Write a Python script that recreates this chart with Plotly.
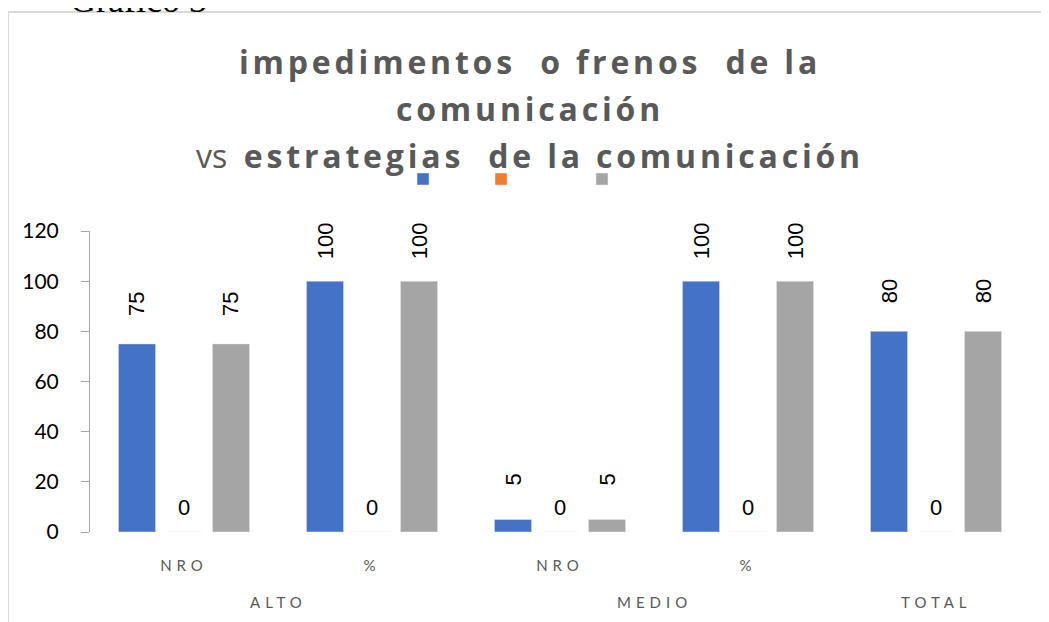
import plotly.graph_objects as go

# data
categories = ["ALTO NRO", "ALTO %", "MEDIO NRO", "MEDIO %", "TOTAL"]
groups = ["ALTO", "ALTO", "MEDIO", "MEDIO", "TOTAL"]
subs = ["NRO", "%", "NRO", "%", ""]
serie_azul = [75, 100, 5, 100, 80]
serie_naranja = [0, 0, 0, 0, 0]
serie_gris = [75, 100, 5, 100, 80]
yticks = [0, 20, 40, 60, 80, 100, 120]

series = [serie_azul, serie_naranja, serie_gris]
colors = ["#4472C4", "#ED7D31", "#A5A5A5"]
legends = ["legend", "legend2", "legend3"]

BARGAP = 0.25
slot = (1 - BARGAP) / len(series)

W, H = 1041, 614          # page has an 8px body margin
L, T = 82, 223             # plot area: page x 90..1030, y 231..532
PW = 940


def spaced(t, px=4):
    return f'<span style="letter-spacing:{px}px">{t}</span>'


fig = go.Figure()
for vals, col, lg in zip(series, colors, legends):
    fig.add_trace(go.Bar(x=categories, y=vals, name="", marker_color=col,
                         legend=lg, showlegend=True, hoverinfo="y"))

ann = []
# data labels
lab_font = dict(family="Liberation Sans", size=22, color="#000000")
for k, vals in enumerate(series):
    off = (k - 1) * slot
    for i, v in enumerate(vals):
        if k == 1:
            ann.append(dict(x=i + off, y=v, text=str(v), showarrow=False,
                            yanchor="middle", yshift=25, font=lab_font))
        else:
            ann.append(dict(x=i + off, y=v, text=str(v), showarrow=False,
                            textangle=-90, yanchor="middle", yshift=40,
                            font=lab_font))

# group labels under the sub labels
seen = []
for g in groups:
    if g not in seen:
        seen.append(g)
for g in seen:
    idx = [i for i, gg in enumerate(groups) if gg == g]
    ann.append(dict(x=sum(idx) / len(idx), xref="x", y=0, yref="paper",
                    yanchor="middle", yshift=-70, text=spaced(g, 5), showarrow=False,
                    font=dict(family="Lato", size=15, color="#595959")))

# title lines
title_font = dict(family="Open Sans", size=32, color="#595959", weight="bold")
titles = [
    (spaced("impedimentos  o frenos  de la", 3.8), 146),
    (spaced("comunicación", 3.8), 99),
    ('<span style="font-weight:normal">vs</span>  '
     + spaced("estrategias  de la comunicación", 3.8), 52),
]
for txt, ys in titles:
    ann.append(dict(x=(530 - 90) / PW, xref="paper", y=1, yref="paper",
                    yanchor="bottom", yshift=ys, text=txt, showarrow=False,
                    font=title_font))

# "Gráfico 3" cut at page top
ann.append(dict(x=(68 - 90) / PW, xref="paper", xanchor="left", y=1, yref="paper",
                yanchor="bottom", yshift=209, text="Gráfico 3", showarrow=False,
                font=dict(family="Liberation Serif", size=36, color="#000000")))

fig.update_layout(
    width=W, height=H, autosize=False,
    showlegend=True,
    margin=dict(l=L, r=W - L - PW, t=T, b=H - T - 301),
    paper_bgcolor="white", plot_bgcolor="white",
    barmode="group", bargap=BARGAP, bargroupgap=0.21,
    annotations=ann,
    shapes=[dict(type="rect", xref="paper", yref="paper",
                 x0=(8 - 90) / PW, x1=1.2, y0=-0.5, y1=(532 - 12) / 301,
                 line=dict(color="#d9d9d9", width=2), layer="below")],
    xaxis=dict(tickmode="array", tickvals=categories,
               ticktext=[spaced(s, 5) for s in subs],
               tickfont=dict(family="Lato", size=15, color="#595959"),
               showline=False, showgrid=False, ticks="", ticklabelstandoff=23),
    yaxis=dict(range=[0, 120], tickvals=yticks, showgrid=False, zeroline=False,
               showline=True, linecolor="#a6a6a6", linewidth=1,
               ticks="outside", ticklen=8, tickcolor="#a6a6a6",
               ticklabelstandoff=18,
               tickfont=dict(family="Lato", size=21, color="#000000")),
)

# one tiny legend per series, placed under the title
leg_x = [423, 501, 602]
for lg, cx in zip(legends, leg_x):
    fig.update_layout({lg: dict(x=(cx - 8 - 20) / W, xref="container", xanchor="left",
                                y=1 - (179 - 8) / H, yref="container", yanchor="middle",
                                orientation="h", bgcolor="rgba(0,0,0,0)",
                                font=dict(size=12), itemwidth=30)})

fig.write_html("out.html")
